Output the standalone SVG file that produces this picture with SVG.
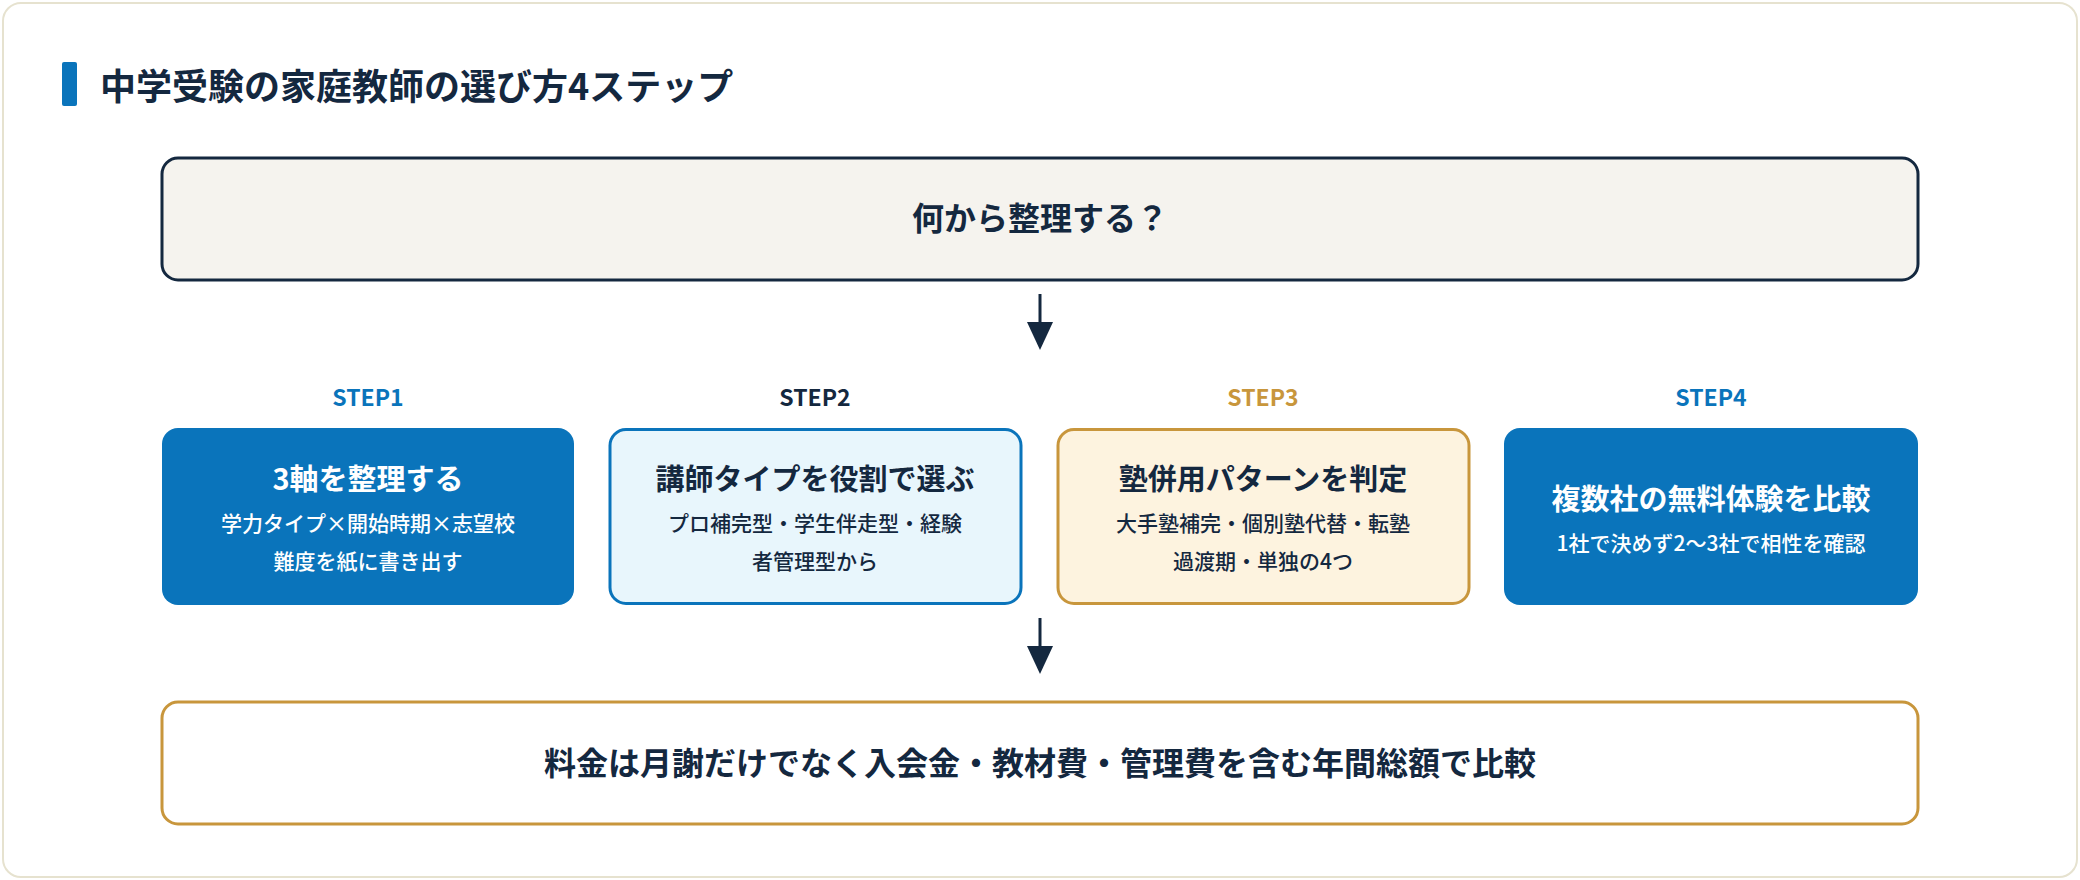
<svg xmlns="http://www.w3.org/2000/svg" width="2080" height="880" viewBox="0 0 2080 880">
<style>
text{font-family:"Noto Sans CJK JP","Noto Sans",sans-serif;font-weight:700;text-anchor:middle}
.lbl{font-size:23px}
.t{font-size:29px}
.s{font-size:21px;font-weight:500}
</style>
<defs><marker id="ah" markerWidth="10" markerHeight="10" refX="5" refY="5" orient="auto" markerUnits="userSpaceOnUse" viewBox="0 0 10 10"><path d="M0,0L10,5L0,10z" fill="#14283f"/></marker></defs>
<rect x="3" y="3" width="2074" height="874" rx="18" fill="#fff" stroke="#e6e2cf" stroke-width="2"/>
<rect x="62" y="62" width="15" height="44" rx="2" fill="#0a74bb"/>
<text x="100" y="100" style="font-size:36px;text-anchor:start" fill="#14283f">中学受験の家庭教師の選び方4ステップ</text>
<g id="top"><rect x="162" y="158" width="1756" height="122" rx="16" fill="#f5f3ee" stroke="#14283f" stroke-width="3"/><text x="1040" y="230" style="font-size:32px" fill="#14283f">何から整理する？</text></g>
<g id="connectors" stroke="#14283f" stroke-width="3">
<line x1="1040" y1="294" x2="1040" y2="326"/><path d="M1027,322L1053,322L1040,350z" fill="#14283f" stroke="none"/>
<line x1="1040" y1="618" x2="1040" y2="650"/><path d="M1027,646L1053,646L1040,674z" fill="#14283f" stroke="none"/>
</g>
<g id="step1"><text class="lbl" x="368" y="406" fill="#0a74bb">STEP1</text><rect x="162" y="428" width="412" height="177" rx="16" fill="#0a74bb"/><text class="t" x="368" y="490" fill="#fff">3軸を整理する</text><text class="s" x="368" y="531" fill="#fff">学力タイプ×開始時期×志望校</text><text class="s" x="368" y="569" fill="#fff">難度を紙に書き出す</text></g>
<g id="step2"><text class="lbl" x="815" y="406" fill="#14283f">STEP2</text><rect x="610" y="429.5" width="411" height="174" rx="16" fill="#e8f6fc" stroke="#0a74bb" stroke-width="3"/><text class="t" x="815" y="490" fill="#14283f">講師タイプを役割で選ぶ</text><text class="s" x="815" y="531" fill="#14283f">プロ補完型・学生伴走型・経験</text><text class="s" x="815" y="569" fill="#14283f">者管理型から</text></g>
<g id="step3"><text class="lbl" x="1263" y="406" fill="#c8963c">STEP3</text><rect x="1058" y="429.5" width="411" height="174" rx="16" fill="#fdf3df" stroke="#c8963c" stroke-width="3"/><text class="t" x="1263" y="490" fill="#14283f">塾併用パターンを判定</text><text class="s" x="1263" y="531" fill="#14283f">大手塾補完・個別塾代替・転塾</text><text class="s" x="1263" y="569" fill="#14283f">過渡期・単独の4つ</text></g>
<g id="step4"><text class="lbl" x="1711" y="406" fill="#0a74bb">STEP4</text><rect x="1504" y="428" width="414" height="177" rx="16" fill="#0a74bb"/><text class="t" x="1711" y="510" fill="#fff">複数社の無料体験を比較</text><text class="s" x="1711" y="551" fill="#fff">1社で決めず2〜3社で相性を確認</text></g>
<g id="bottom"><rect x="162" y="702" width="1756" height="122" rx="16" fill="#fff" stroke="#c8963c" stroke-width="3"/><text x="1040" y="775" style="font-size:32px" fill="#14283f">料金は月謝だけでなく入会金・教材費・管理費を含む年間総額で比較</text></g>
</svg>
